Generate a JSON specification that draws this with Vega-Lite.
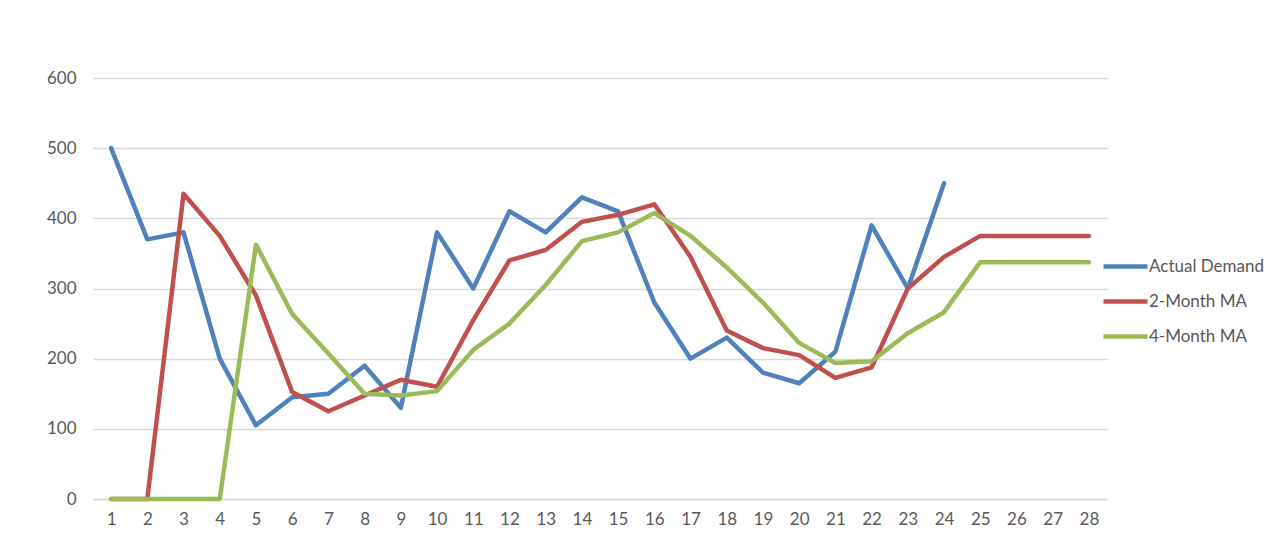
{
  "$schema": "https://vega.github.io/schema/vega-lite/v6.json",
  "width": 1014,
  "height": 421,
  "autosize": "none",
  "padding": {"left": 93, "top": 78, "right": 166, "bottom": 50},
  "background": "white",
  "config": {
    "view": {"stroke": null},
    "font": "Lato",
    "axis": {"labelFont": "Lato", "labelFontSize": 17, "labelColor": "#595959"},
    "legend": {"labelFont": "Lato", "labelFontSize": 17, "labelColor": "#595959"}
  },
  "data": {
    "values": [
      {"Month": 1, "Actual Demand": 500, "2-Month MA": 0, "4-Month MA": 0},
      {"Month": 2, "Actual Demand": 370, "2-Month MA": 0, "4-Month MA": 0},
      {"Month": 3, "Actual Demand": 380, "2-Month MA": 435, "4-Month MA": 0},
      {"Month": 4, "Actual Demand": 200, "2-Month MA": 375, "4-Month MA": 0},
      {"Month": 5, "Actual Demand": 105, "2-Month MA": 290, "4-Month MA": 362.5},
      {"Month": 6, "Actual Demand": 145, "2-Month MA": 152.5, "4-Month MA": 263.75},
      {"Month": 7, "Actual Demand": 150, "2-Month MA": 125, "4-Month MA": 207.5},
      {"Month": 8, "Actual Demand": 190, "2-Month MA": 147.5, "4-Month MA": 150},
      {"Month": 9, "Actual Demand": 130, "2-Month MA": 170, "4-Month MA": 147.5},
      {"Month": 10, "Actual Demand": 380, "2-Month MA": 160, "4-Month MA": 153.75},
      {"Month": 11, "Actual Demand": 300, "2-Month MA": 255, "4-Month MA": 212.5},
      {"Month": 12, "Actual Demand": 410, "2-Month MA": 340, "4-Month MA": 250},
      {"Month": 13, "Actual Demand": 380, "2-Month MA": 355, "4-Month MA": 305},
      {"Month": 14, "Actual Demand": 430, "2-Month MA": 395, "4-Month MA": 367.5},
      {"Month": 15, "Actual Demand": 410, "2-Month MA": 405, "4-Month MA": 380},
      {"Month": 16, "Actual Demand": 280, "2-Month MA": 420, "4-Month MA": 407.5},
      {"Month": 17, "Actual Demand": 200, "2-Month MA": 345, "4-Month MA": 375},
      {"Month": 18, "Actual Demand": 230, "2-Month MA": 240, "4-Month MA": 330},
      {"Month": 19, "Actual Demand": 180, "2-Month MA": 215, "4-Month MA": 280},
      {"Month": 20, "Actual Demand": 165, "2-Month MA": 205, "4-Month MA": 222.5},
      {"Month": 21, "Actual Demand": 210, "2-Month MA": 172.5, "4-Month MA": 193.75},
      {"Month": 22, "Actual Demand": 390, "2-Month MA": 187.5, "4-Month MA": 196.25},
      {"Month": 23, "Actual Demand": 300, "2-Month MA": 300, "4-Month MA": 236.25},
      {"Month": 24, "Actual Demand": 450, "2-Month MA": 345, "4-Month MA": 266.25},
      {"Month": 25, "Actual Demand": null, "2-Month MA": 375, "4-Month MA": 337.5},
      {"Month": 26, "Actual Demand": null, "2-Month MA": 375, "4-Month MA": 337.5},
      {"Month": 27, "Actual Demand": null, "2-Month MA": 375, "4-Month MA": 337.5},
      {"Month": 28, "Actual Demand": null, "2-Month MA": 375, "4-Month MA": 337.5}
    ]
  },
  "transform": [
    {"fold": ["Actual Demand", "2-Month MA", "4-Month MA"], "as": ["Series", "Value"]},
    {"filter": "datum.Value != null"}
  ],
  "mark": {"type": "line", "strokeWidth": 4.5, "strokeCap": "round", "strokeJoin": "round"},
  "encoding": {
    "x": {
      "field": "Month",
      "type": "ordinal",
      "scale": {"type": "point", "padding": 0.5},
      "axis": {
        "title": null,
        "labelAngle": 0,
        "ticks": false,
        "grid": false,
        "domainColor": "#d9d9d9",
        "domainWidth": 1.5,
        "labelPadding": 12
      }
    },
    "y": {
      "field": "Value",
      "type": "quantitative",
      "scale": {"domain": [0, 600], "nice": false},
      "axis": {
        "title": null,
        "values": [0, 100, 200, 300, 400, 500, 600],
        "domain": false,
        "ticks": false,
        "gridColor": "#d9d9d9",
        "gridWidth": 1.5,
        "labelPadding": 17
      }
    },
    "color": {
      "field": "Series",
      "type": "nominal",
      "sort": ["Actual Demand", "2-Month MA", "4-Month MA"],
      "scale": {
        "domain": ["Actual Demand", "2-Month MA", "4-Month MA"],
        "range": ["#4F81BD", "#C0504D", "#9BBB59"]
      },
      "legend": {
        "title": null,
        "orient": "none",
        "legendX": 1019,
        "legendY": 175,
        "padding": 0,
        "symbolType": "M-2,0L2,0",
        "symbolSize": 484,
        "symbolStrokeWidth": 4.5,
        "labelOffset": 10,
        "rowPadding": 12
      }
    }
  }
}
